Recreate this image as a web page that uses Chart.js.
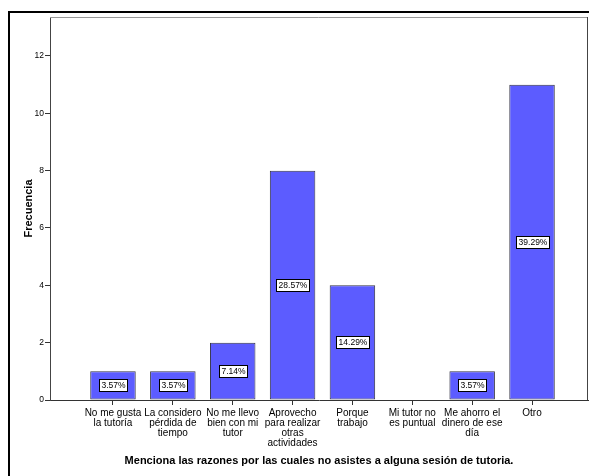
<!DOCTYPE html>
<html>
<head>
<meta charset="utf-8">
<script src="https://cdn.jsdelivr.net/npm/chart.js@4/dist/chart.umd.min.js"></script>
<style>
  body { margin: 0; background: #fff; }
  #wrap { position: relative; width: 589px; height: 476px; }
  #frame { position: absolute; left: 8px; top: 11px; right: -4px; bottom: -4px;
           border-left: 2px solid #000; border-top: 2px solid #000; }
  canvas { position: absolute; left: 0; top: 0; }
</style>
</head>
<body>
<div id="wrap">
  <div id="frame"></div>
  <canvas id="myChart" width="589" height="476"></canvas>
</div>
<script>
var categories = [
    ["No me gusta", "la tutoría"],
    ["La considero", "pérdida de", "tiempo"],
    ["No me llevo", "bien con mi", "tutor"],
    ["Aprovecho", "para realizar", "otras", "actividades"],
    ["Porque", "trabajo"],
    ["Mi tutor no", "es puntual"],
    ["Me ahorro el", "dinero de ese", "día"],
    ["Otro"]
];
var frecuencia = [1, 1, 2, 8, 4, 0, 1, 11];
var porcentajes = ["3.57%", "3.57%", "7.14%", "28.57%", "14.29%", "", "3.57%", "39.29%"];
var yTicks = [0, 2, 4, 6, 8, 10, 12];

var font = "Arial, 'Liberation Sans', sans-serif";

// white boxes with the percentage in the middle of each bar
var pctLabels = {
    id: 'pctLabels',
    afterDatasetsDraw: function (chart) {
        var ctx = chart.ctx;
        var meta = chart.getDatasetMeta(0);
        ctx.save();
        ctx.font = "8.5px " + font;
        ctx.textAlign = "center";
        ctx.textBaseline = "middle";
        meta.data.forEach(function (bar, i) {
            var txt = porcentajes[i];
            if (!txt) return;
            var cy = (bar.y + bar.base) / 2;
            var w = Math.round(ctx.measureText(txt).width + 4);
            var h = 12;
            var x0 = Math.round(bar.x - w / 2), y0 = Math.round(cy - h / 2);
            ctx.fillStyle = "#fff";
            ctx.fillRect(x0, y0, w, h);
            ctx.strokeStyle = "#000";
            ctx.lineWidth = 1;
            ctx.strokeRect(x0 + 0.5, y0 + 0.5, w, h);
            ctx.fillStyle = "#000";
            ctx.fillText(txt, x0 + w / 2 + 0.5, y0 + h / 2 + 1);
        });
        ctx.restore();
    }
};

// top and right edge of the plot frame
var plotFrame = {
    id: 'plotFrame',
    beforeDatasetsDraw: function (chart) {
        var a = chart.chartArea;
        var ctx = chart.ctx;
        ctx.save();
        ctx.lineWidth = 1;
        ctx.beginPath();
        ctx.moveTo(a.left, a.top + 0.5);
        ctx.lineTo(a.right - 0.5, a.top + 0.5);
        ctx.strokeStyle = "#999";
        ctx.stroke();
        ctx.beginPath();
        ctx.moveTo(a.right - 0.5, a.top);
        ctx.lineTo(a.right - 0.5, a.bottom);
        ctx.strokeStyle = "#444";
        ctx.stroke();
        ctx.restore();
    }
};

var ctx = document.getElementById("myChart").getContext('2d');
new Chart(ctx, {
    type: 'bar',
    data: {
        datasets: [{
            data: frecuencia.map(function (v, i) { return {x: i, y: v}; }),
            backgroundColor: 'rgb(92, 92, 255)',
            borderColor: '#333344',
            borderWidth: 1,
            borderSkipped: false,
            barPercentage: 0.76,
            categoryPercentage: 1
        }]
    },
    options: {
        responsive: false,
        animation: false,
        layout: { padding: { left: 22, top: 17, right: 1, bottom: 4 } },
        plugins: {
            legend: { display: false },
            tooltip: { enabled: false }
        },
        scales: {
            x: {
                type: 'linear',
                offset: false,
                min: -1.052,
                max: 7.935,
                afterFit: function (scale) { scale.height = 72; },
                afterBuildTicks: function (scale) {
                    scale.ticks = categories.map(function (c, i) { return {value: i}; });
                },
                ticks: {
                    autoSkip: false,
                    maxRotation: 0,
                    padding: 3,
                    color: '#000',
                    font: { family: font, size: 10, lineHeight: 1 },
                    callback: function (v) { return categories[v]; }
                },
                grid: { offset: false, drawOnChartArea: false, tickLength: 5, color: '#333' },
                border: { color: '#333' },
                title: {
                    display: true,
                    text: 'Menciona las razones por las cuales no asistes a alguna sesión de tutoria.',
                    color: '#000',
                    font: { family: font, size: 11, weight: 'bold' }
                }
            },
            y: {
                min: 0,
                max: 13.36,
                afterFit: function (scale) { scale.width = 28; },
                afterBuildTicks: function (scale) {
                    scale.ticks = yTicks.map(function (v) { return {value: v}; });
                },
                ticks: {
                    padding: 1,
                    color: '#000',
                    font: { family: font, size: 8.5 }
                },
                grid: { drawOnChartArea: false, tickLength: 5, color: '#333' },
                border: { color: '#444' },
                title: {
                    display: true,
                    text: 'Frecuencia',
                    color: '#000',
                    padding: 0,
                    font: { family: font, size: 11, weight: 'bold' }
                }
            }
        }
    },
    plugins: [plotFrame, pctLabels]
});
</script>
</body>
</html>
